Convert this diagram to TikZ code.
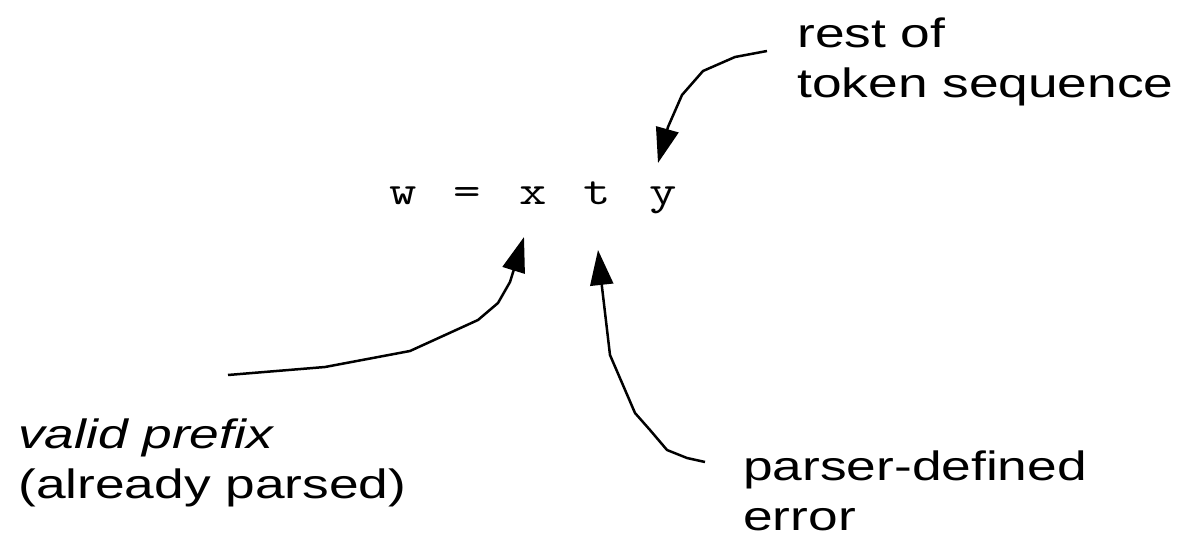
\documentclass[tikz,border=0pt]{standalone}
\usepackage{fontspec}
\setmainfont{Liberation Sans}
\usetikzlibrary{arrows.meta}

\begin{document}
\begin{tikzpicture}[x=1pt, y=-1pt]
    \tikzstyle{caption} = [font=\fontsize{41}{50}\selectfont, xscale=1.30, transform shape,
        inner sep=0pt, anchor=base west, align=left]
    \tikzstyle{token} = [font=\fontsize{41}{50}\selectfont\ttfamily, xscale=1.30, transform shape,
        inner sep=0pt, anchor=base]
    \tikzstyle{pointer} = [line width=2.5pt, line join=round, -{Triangle[length=35pt, width=23pt]}]

    \useasboundingbox (0,0) rectangle (1179,545);

    % the token sequence
    \node [token] (wchar) at (403,205) {w};
    \node [token] (eqchar) at (467,205) {=};
    \node [token] (xchar) at (533,205) {x};
    \node [token] (tchar) at (597,205) {t};
    \node [token] (ychar) at (663,205) {y};

    % labels (anchored at the baseline of their last line)
    \node [caption] (rest) at (797,98) {rest of\\token sequence};
    \node [caption] (prefix) at (18,498) {\textit{valid prefix}\\(already parsed)};
    \node [caption] (error) at (743,530) {parser-defined\\error};

    \coordinate (restTail) at (767,51);
    \coordinate (prefixTail) at (228,375);
    \coordinate (errorTail) at (705,462);

    \draw [pointer] (restTail) -- (735,57) -- (703,71) -- (682,95) -- (668,127)
        -- ([shift={(-5,-42)}]ychar.base);
    \draw [pointer] (prefixTail) -- (325,367) -- (410,351) -- (478,320) -- (498,303)
        -- (510,282) -- ([shift={(-9,32)}]xchar.base);
    \draw [pointer] (errorTail) -- (687,458) -- (667,450) -- (650,430) -- (635,413)
        -- (610,355) -- (602,287) -- ([shift={(1,45)}]tchar.base);
\end{tikzpicture}
\end{document}
